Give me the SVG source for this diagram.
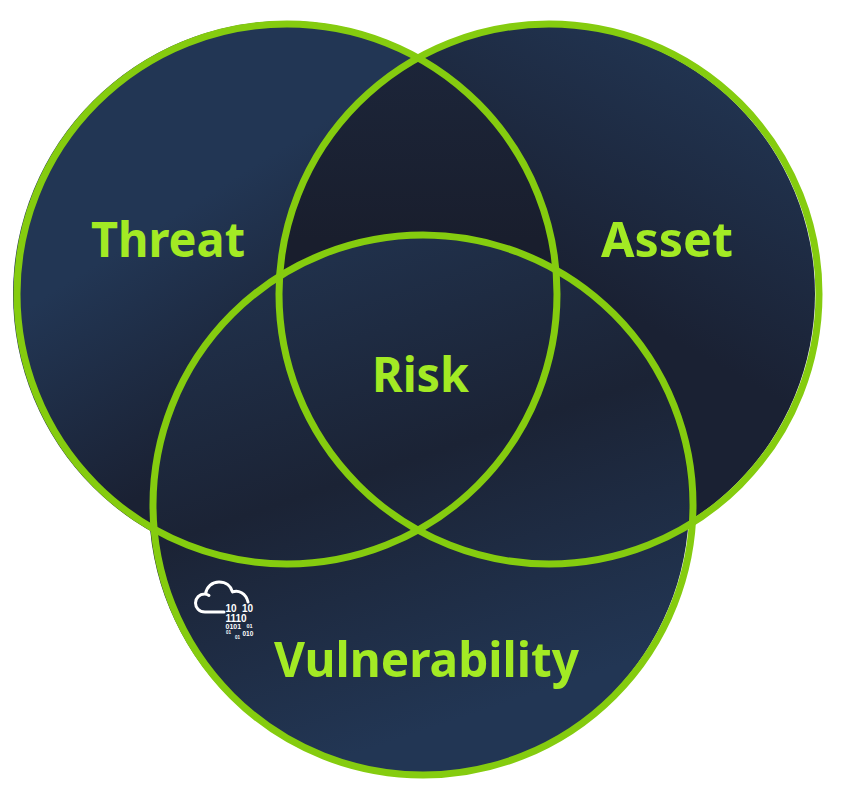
<svg xmlns="http://www.w3.org/2000/svg" width="851" height="800" viewBox="0 0 851 800">
<style>
.ring{fill:none;stroke:#85cc0f;stroke-width:7}
.lbl{font-family:"Noto Sans","DejaVu Sans",sans-serif;font-weight:700;font-size:49px;fill:#a3ea24}
.bin{font-family:"Liberation Sans",Arial,sans-serif;font-weight:700;fill:#fff}
</style>
<defs>
<linearGradient id="gT" gradientUnits="userSpaceOnUse" x1="150" y1="230" x2="267" y2="417"><stop offset="0" stop-color="#223654"/><stop offset="1" stop-color="#1a2133"/></linearGradient>
<linearGradient id="gA" gradientUnits="userSpaceOnUse" x1="760" y1="60" x2="620" y2="310"><stop offset="0" stop-color="#223654"/><stop offset="1" stop-color="#1a2133"/></linearGradient>
<linearGradient id="gL" gradientUnits="userSpaceOnUse" x1="420" y1="60" x2="420" y2="240"><stop offset="0" stop-color="#1c2539"/><stop offset="1" stop-color="#191e2d"/></linearGradient>
<linearGradient id="gV" gradientUnits="userSpaceOnUse" x1="380" y1="244" x2="532" y2="695"><stop offset="0" stop-color="#20304a"/><stop offset="0.45" stop-color="#1b2335"/><stop offset="1" stop-color="#223654"/></linearGradient>
<clipPath id="cT"><circle cx="287" cy="294" r="270"/></clipPath>
</defs>
<g id="fills">
<circle cx="286" cy="294" r="273" fill="url(#gT)"/>
<circle cx="547" cy="294" r="268" fill="url(#gA)"/>
<circle cx="549" cy="294" r="270" fill="url(#gL)" clip-path="url(#cT)"/>
<circle cx="419" cy="505" r="270" fill="url(#gV)"/>
</g>
<g id="threat"><circle class="ring" cx="287" cy="294" r="270"/><text class="lbl" x="91" y="257" textLength="154" lengthAdjust="spacingAndGlyphs">Threat</text></g>
<g id="asset"><circle class="ring" cx="549" cy="294" r="270"/><text class="lbl" x="601" y="257" textLength="132" lengthAdjust="spacingAndGlyphs">Asset</text></g>
<g id="vulnerability"><circle class="ring" cx="423" cy="505" r="270"/><text class="lbl" x="274" y="677" textLength="305" lengthAdjust="spacingAndGlyphs">Vulnerability</text></g>
<g id="risk"><text class="lbl" x="372" y="392" textLength="97" lengthAdjust="spacingAndGlyphs">Risk</text></g>
<g id="cloud-icon">
<path d="M224 612H205C199 612 195.500 607.500 195.500 603C195.500 598 199.500 594 204.500 594C206 594 207.500 594.500 209 595.500M205.500 594C206.500 587 212 582 219 582C226 582 231 586 232.500 592C238 589.500 246 593 248 602" fill="none" stroke="#fff" stroke-width="3" stroke-linecap="round" stroke-linejoin="round"/>
<text class="bin" x="225.500" y="611.500" font-size="10">10</text>
<text class="bin" x="242" y="611.500" font-size="10">10</text>
<text class="bin" x="225.500" y="621.500" font-size="10">1110</text>
<text class="bin" x="225.500" y="628.500" font-size="7">0101</text>
<text class="bin" x="246.500" y="628" font-size="5.500">01</text>
<text class="bin" x="226" y="634" font-size="4.500">01</text>
<text class="bin" x="242.500" y="635.500" font-size="6.500">010</text>
<text class="bin" x="235" y="638.500" font-size="4.500">01</text>
</g>
</svg>
